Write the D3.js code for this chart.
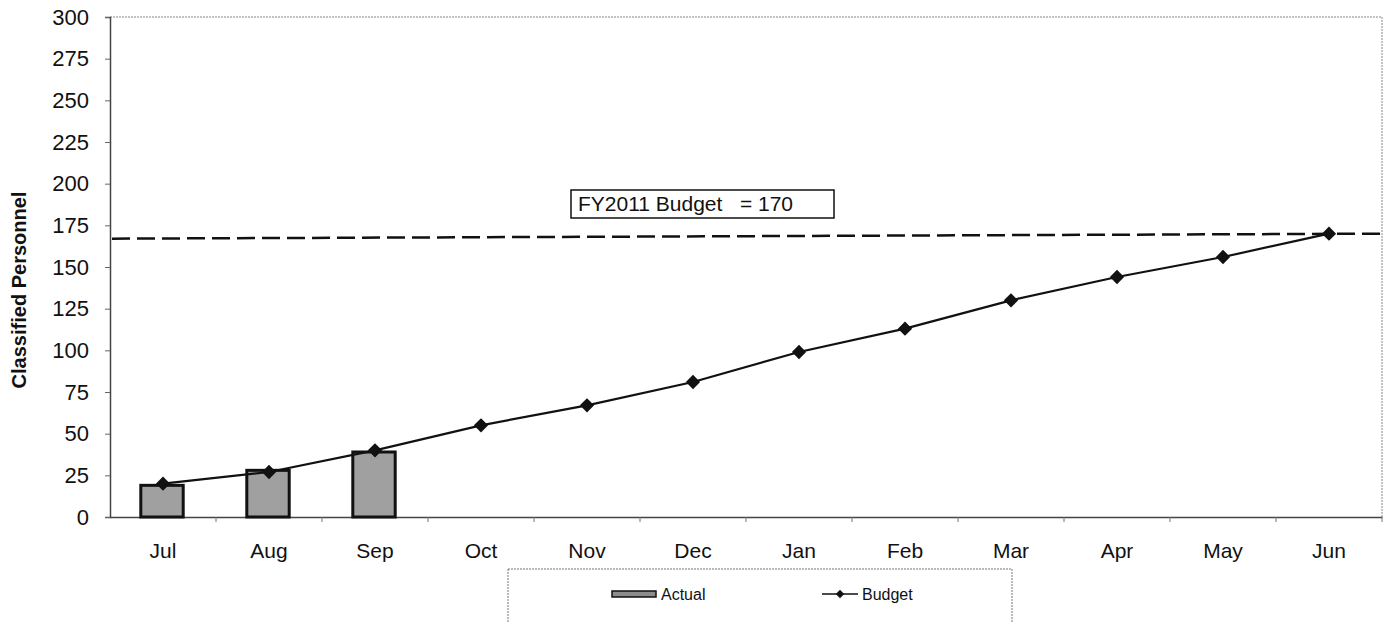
<!DOCTYPE html>
<html>
<head>
<meta charset="utf-8">
<script src="https://cdn.jsdelivr.net/npm/d3@7"></script>
<style>
    body { margin: 0; background: #fff; }
    text { font-family: "Liberation Sans", Arial, sans-serif; fill: #111; }
</style>
</head>
<body>
<svg id="chart"></svg>
<script>
var months = ["Jul","Aug","Sep","Oct","Nov","Dec","Jan","Feb","Mar","Apr","May","Jun"];
var actual = [19, 28, 39];
var budget = [20, 27, 40, 55, 67, 81, 99, 113, 130, 144, 156, 170];
var yTicks = [0, 25, 50, 75, 100, 125, 150, 175, 200, 225, 250, 275, 300];
var budgetLine = [167, 170];   // dashed FY budget line, start / end (scan is a bit tilted)
var budgetLabel = "FY2011 Budget   = 170";

var width = 1389,
    height = 622;

var plotLeft = 110, plotRight = 1382, plotTop = 17, plotBottom = 517;

var svg = d3.select("svg#chart")
    .attr("width", width)
    .attr("height", height);

var x = d3.scaleBand()
    .domain(months)
    .range([plotLeft, plotRight]);

var y = d3.scaleLinear()
    .domain([0, 300])
    .range([plotBottom, plotTop]);

// plot frame
svg.append("line")
    .attr("x1", plotLeft).attr("x2", plotRight)
    .attr("y1", plotTop).attr("y2", plotTop)
    .attr("stroke", "#888").attr("stroke-dasharray", "2,1");
svg.append("line")
    .attr("x1", plotRight).attr("x2", plotRight)
    .attr("y1", plotTop).attr("y2", plotBottom)
    .attr("stroke", "#888").attr("stroke-dasharray", "2,1");

// y axis
var yAxis = svg.append("g")
    .attr("transform", "translate(" + plotLeft + ",0)")
    .call(d3.axisLeft(y).tickValues(yTicks).tickSize(5).tickPadding(16));
yAxis.select(".domain").attr("stroke", "#444").attr("stroke-width", 1.5);
yAxis.selectAll(".tick line").attr("stroke", "#666");
yAxis.selectAll("text")
    .style("font-size", "22px")
    .style("font-family", "Liberation Sans, Arial, sans-serif")
    .attr("fill", "#111");

// x axis: ticks on category boundaries
var xAxis = svg.append("g")
    .attr("transform", "translate(0," + plotBottom + ")")
    .call(d3.axisBottom(x).tickSize(0).tickPadding(26));
xAxis.select(".domain").attr("stroke", "#444").attr("stroke-width", 1.5);
xAxis.selectAll("text")
    .style("font-size", "21px")
    .style("font-family", "Liberation Sans, Arial, sans-serif")
    .attr("fill", "#111");

svg.append("g")
    .selectAll("line")
    .data(months)
    .enter()
    .append("line")
    .attr("x1", function(d, i){ return plotLeft + x.step() * (i + 1); })
    .attr("x2", function(d, i){ return plotLeft + x.step() * (i + 1); })
    .attr("y1", plotBottom)
    .attr("y2", plotBottom + 5)
    .attr("stroke", "#777");

// axis title
svg.append("text")
    .attr("transform", "translate(26,290) rotate(-90)")
    .attr("text-anchor", "middle")
    .style("font-size", "20px")
    .style("font-weight", "bold")
    .text("Classified Personnel");

// actual bars
var barW = x.bandwidth() * 0.4;
svg.append("g")
    .selectAll("rect")
    .data(actual)
    .enter()
    .append("rect")
    .attr("x", function(d, i){ return x(months[i]) + x.bandwidth() / 2 - barW / 2 - 1; })
    .attr("y", function(d){ return y(d); })
    .attr("width", barW)
    .attr("height", function(d){ return plotBottom - y(d); })
    .attr("fill", "#a0a0a0")
    .attr("stroke", "#111")
    .attr("stroke-width", 3);

// dashed budget line
svg.append("line")
    .attr("x1", plotLeft + 2)
    .attr("x2", plotRight)
    .attr("y1", y(budgetLine[0]))
    .attr("y2", y(budgetLine[1]))
    .attr("stroke", "#111")
    .attr("stroke-width", 2.5)
    .attr("stroke-dasharray", "18,7");

// budget line + markers
var line = d3.line()
    .x(function(d, i){ return x(months[i]) + x.bandwidth() / 2; })
    .y(function(d){ return y(d); });

svg.append("path")
    .datum(budget)
    .attr("d", line)
    .attr("fill", "none")
    .attr("stroke", "#111")
    .attr("stroke-width", 2.2);

var diamond = d3.symbol().type(d3.symbolDiamond2).size(130);
svg.append("g")
    .selectAll("path")
    .data(budget)
    .enter()
    .append("path")
    .attr("d", diamond)
    .attr("transform", function(d, i){
        return "translate(" + (x(months[i]) + x.bandwidth() / 2) + "," + y(d) + ")";
    })
    .attr("fill", "#111");

// annotation box
svg.append("rect")
    .attr("x", 571).attr("y", 190)
    .attr("width", 263).attr("height", 28)
    .attr("fill", "#fff")
    .attr("stroke", "#111")
    .attr("stroke-width", 1.5);
svg.append("text")
    .attr("x", 578).attr("y", 211)
    .attr("xml:space", "preserve")
    .style("white-space", "pre")
    .style("font-size", "21px")
    .text(budgetLabel);

// legend
var legend = svg.append("g");
legend.append("rect")
    .attr("x", 508).attr("y", 569)
    .attr("width", 504).attr("height", 70)
    .attr("fill", "none")
    .attr("stroke", "#777")
    .attr("stroke-dasharray", "2,1");

legend.append("rect")
    .attr("x", 612).attr("y", 591)
    .attr("width", 44).attr("height", 6)
    .attr("fill", "#8c8c8c")
    .attr("stroke", "#111")
    .attr("stroke-width", 1.5);
legend.append("text")
    .attr("x", 661).attr("y", 600)
    .style("font-size", "16px")
    .text("Actual");

legend.append("line")
    .attr("x1", 822).attr("x2", 858)
    .attr("y1", 594).attr("y2", 594)
    .attr("stroke", "#111")
    .attr("stroke-width", 1.5);
legend.append("path")
    .attr("d", d3.symbol().type(d3.symbolDiamond2).size(45))
    .attr("transform", "translate(840,594)")
    .attr("fill", "#111");
legend.append("text")
    .attr("x", 862).attr("y", 600)
    .style("font-size", "16px")
    .text("Budget");
</script>
</body>
</html>
